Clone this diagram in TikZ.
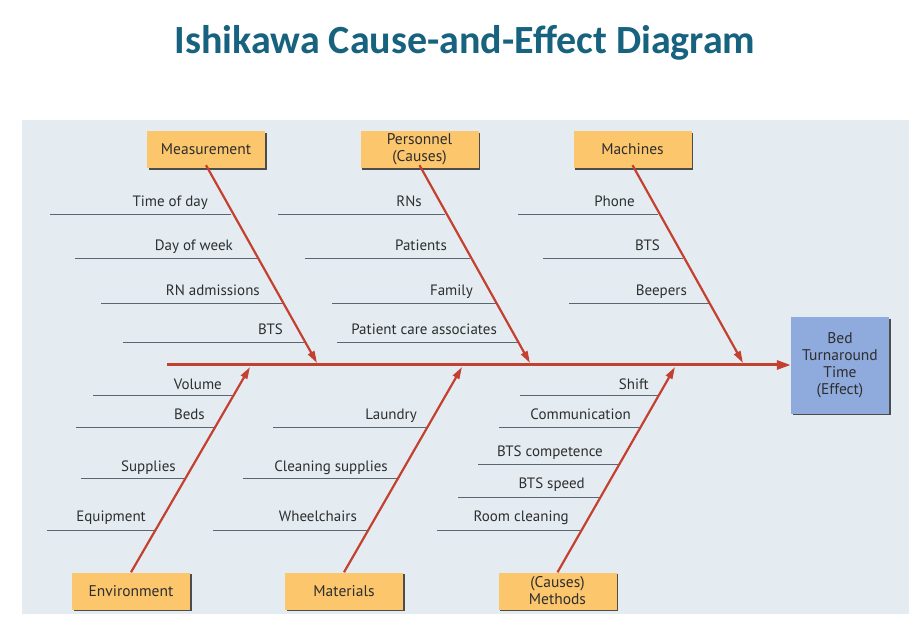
\documentclass[tikz,border=0pt]{standalone}
\usepackage{fontspec}
\setmainfont{PT Sans}
\newfontfamily\titlefont{Carlito}
\usetikzlibrary{arrows.meta,shadows}
\definecolor{panel}{HTML}{E4ECF2}
\definecolor{bonered}{HTML}{C4412F}
\definecolor{causeor}{HTML}{FCC66D}
\definecolor{effblue}{HTML}{8FAADC}
\definecolor{subgray}{HTML}{5B6670}
\definecolor{txt}{HTML}{2E2E2E}
\definecolor{titleblue}{HTML}{17637F}
\tikzset{
  causebox/.style={fill=causeor, minimum width=118pt, minimum height=37pt, inner sep=0pt, align=center,
    font=\fontsize{15.5}{17}\selectfont, text=txt,
    drop shadow={shadow xshift=1.6pt, shadow yshift=-1.6pt, fill=black!70, opacity=1}},
  effbox/.style={fill=effblue, minimum width=98pt, minimum height=96pt, inner sep=0pt, align=center,
    font=\fontsize{15.5}{17}\selectfont, text=txt,
    drop shadow={shadow xshift=1.6pt, shadow yshift=-1.6pt, fill=black!70, opacity=1}},
  bone/.style={draw=bonered, line width=2.2pt, -{Triangle[length=12pt,width=7pt]}},
  spine/.style={draw=bonered, line width=3pt, -{Triangle[length=14pt,width=9pt]}},
  sub/.style={draw=subgray, line width=0.9pt},
  lbl/.style={anchor=base east, inner sep=0pt, font=\fontsize{15}{17}\selectfont, text=txt},
}
\begin{document}
\begin{tikzpicture}[x=1pt,y=-1pt]
\useasboundingbox (0,0) rectangle (922,639);
\fill[white] (0,0) rectangle (922,639);
\fill[panel] (22,120) rectangle (909,614);
\node[font=\titlefont\bfseries\fontsize{40}{44}\selectfont, text=titleblue] (title) at (465,43) {Ishikawa Cause-and-Effect Diagram};

% effect and causes
\node[effbox] (eff) at (840,365.5) {Bed\\Turnaround\\Time\\(Effect)};
\node[causebox] (meas) at (206,149.5) {Measurement};
\node[causebox] (pers) at (419.5,149.5) {Personnel\\(Causes)};
\node[causebox] (mach) at (632.5,149.5) {Machines};
\node[causebox] (env) at (131,591) {Environment};
\node[causebox] (mat) at (344,591) {Materials};
\node[causebox] (meth) at (557.5,591) {(Causes)\\Methods};

% spine
\coordinate (tail) at (167,365);
\draw[spine] (tail) -- (eff.west |- tail);

% tips
\coordinate (tmeas) at (317,363);
\coordinate (tpers) at (530,363);
\coordinate (tmach) at (743,363);
\coordinate (tenv) at (250,367);
\coordinate (tmat) at (462,367);
\coordinate (tmeth) at (675,367);

% branch lines (left ends / right ends on bones)
\coordinate (a1) at (50,214);  \coordinate (b1) at (231.3,214);
\coordinate (a2) at (75,258);  \coordinate (b2) at (256.6,258);
\coordinate (a3) at (101,303); \coordinate (b3) at (282.5,303);
\coordinate (a4) at (123,342); \coordinate (b4) at (304.9,342);
\foreach \i in {1,...,4} \draw[sub] (a\i) -- (b\i);
\node[lbl] (l1) at (208,207) {Time of day};
\node[lbl] (l2) at (233,251) {Day of week};
\node[lbl] (l3) at (260,296) {RN admissions};
\node[lbl] (l4) at (283,335) {BTS};

\coordinate (c1) at (278,214); \coordinate (d1) at (444.7,214);
\coordinate (c2) at (305,258); \coordinate (d2) at (469.9,258);
\coordinate (c3) at (332,303); \coordinate (d3) at (495.6,303);
\coordinate (c4) at (337,342); \coordinate (d4) at (518.0,342);
\foreach \i in {1,...,4} \draw[sub] (c\i) -- (d\i);
\node[lbl] (p1) at (422,207) {RNs};
\node[lbl] (p2) at (447,251) {Patients};
\node[lbl] (p3) at (473,296) {Family};
\node[lbl] (p4) at (497,335) {Patient care associates};

\coordinate (e1) at (518,214); \coordinate (f1) at (657.7,214);
\coordinate (e2) at (543,258); \coordinate (f2) at (682.9,258);
\coordinate (e3) at (569,303); \coordinate (f3) at (708.6,303);
\foreach \i in {1,...,3} \draw[sub] (e\i) -- (f\i);
\node[lbl] (m1) at (635,207) {Phone};
\node[lbl] (m2) at (660,251) {BTS};
\node[lbl] (m3) at (687,296) {Beepers};

\coordinate (g1) at (93,395);  \coordinate (h1) at (233.7,395);
\coordinate (g2) at (76,427);  \coordinate (h2) at (215.2,427);
\coordinate (g3) at (81,478);  \coordinate (h3) at (185.6,478);
\coordinate (g4) at (47,530);  \coordinate (h4) at (155.4,530);
\foreach \i in {1,...,4} \draw[sub] (g\i) -- (h\i);
\node[lbl] (v1) at (222,389) {Volume};
\node[lbl] (v2) at (205,419) {Beds};
\node[lbl] (v3) at (176,471) {Supplies};
\node[lbl] (v4) at (146,521) {Equipment};

\coordinate (i1) at (273,427); \coordinate (j1) at (427.5,427);
\coordinate (i2) at (243,478); \coordinate (j2) at (398.1,478);
\coordinate (i3) at (213,530); \coordinate (j3) at (368.2,530);
\foreach \i in {1,...,3} \draw[sub] (i\i) -- (j\i);
\node[lbl] (w1) at (417,419) {Laundry};
\node[lbl] (w2) at (388,471) {Cleaning supplies};
\node[lbl] (w3) at (357,521) {Wheelchairs};

\coordinate (k1) at (520,395); \coordinate (n1) at (659.0,395);
\coordinate (k2) at (499,427); \coordinate (n2) at (640.6,427);
\coordinate (k3) at (478,464); \coordinate (n3) at (619.4,464);
\coordinate (k4) at (458,497); \coordinate (n4) at (600.5,497);
\coordinate (k5) at (437,530); \coordinate (n5) at (581.6,530);
\foreach \i in {1,...,5} \draw[sub] (k\i) -- (n\i);
\node[lbl] (z1) at (649,389) {Shift};
\node[lbl] (z2) at (631,419) {Communication};
\node[lbl] (z3) at (603,456) {BTS competence};
\node[lbl] (z4) at (585,488) {BTS speed};
\node[lbl] (z5) at (569,521) {Room cleaning};

% bones
\draw[bone] ([yshift=3pt]meas.south) -- (tmeas);
\draw[bone] ([yshift=3pt]pers.south) -- (tpers);
\draw[bone] ([yshift=3pt]mach.south) -- (tmach);
\draw[bone] (env.north) -- (tenv);
\draw[bone] (mat.north) -- (tmat);
\draw[bone] (meth.north) -- (tmeth);
\end{tikzpicture}
\end{document}
